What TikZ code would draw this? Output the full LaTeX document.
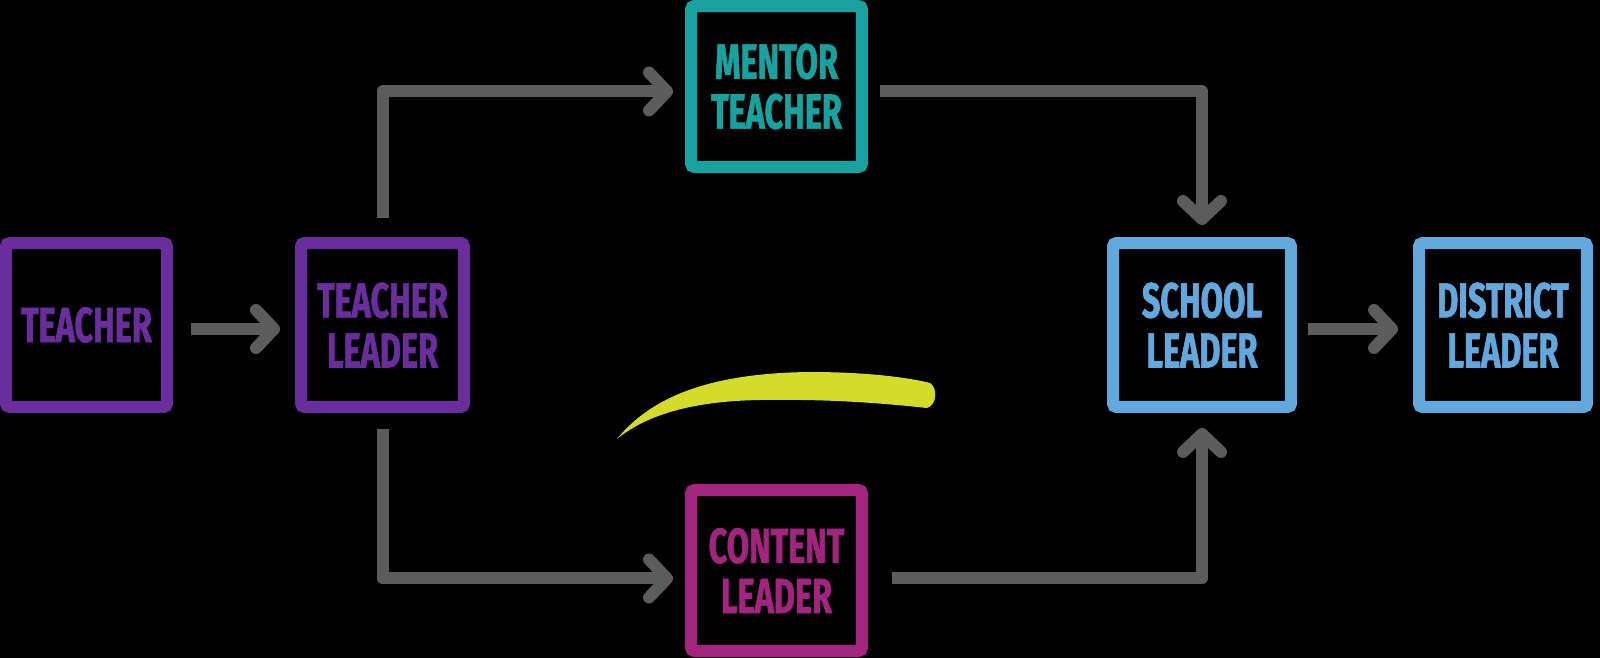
\documentclass[tikz,border=0pt]{standalone}
\usepackage{fontspec}
\newfontfamily\stagefont[FakeStretch=0.66, FakeBold=1.2]{Fira Sans}
\usetikzlibrary{arrows.meta}

\definecolor{tpurple}{HTML}{6A2E9C}
\definecolor{tteal}{HTML}{17A29F}
\definecolor{tmagenta}{HTML}{A3247F}
\definecolor{tblue}{HTML}{62A8DD}
\definecolor{tgray}{HTML}{5C5C5C}
\definecolor{tyellow}{HTML}{D3DC2A}

\begin{document}
\begin{tikzpicture}[x=0.02cm, y=-0.02cm,
    >={Straight Barb[length=0.36cm, width=0.76cm, round]},
    stage/.style={draw, line width=0.24cm, rounded corners=2pt, inner sep=0pt,
        minimum width=3.22cm, minimum height=3.28cm, align=center,
        font=\stagefont\bfseries\fontsize{28}{28.5}\selectfont},
    flow/.style={->, draw=tgray, line width=0.24cm, line join=round}]
    \fill[black] (0,0) rectangle (1600,658);
    \useasboundingbox (0,0) rectangle (1600,658);

    % stages
    \node[stage, draw=tpurple, text=tpurple] (teacher) at (86.5,325) {TEACHER};
    \node[stage, draw=tpurple, text=tpurple, minimum width=3.26cm] (tl) at (382.5,325) {TEACHER\\LEADER};
    \node[stage, draw=tteal, text=tteal, minimum width=3.42cm, minimum height=3.22cm] (mentor) at (776.5,86.5) {MENTOR\\TEACHER};
    \node[stage, draw=tmagenta, text=tmagenta, minimum width=3.42cm, minimum height=3.22cm] (content) at (776.5,570.5) {CONTENT\\LEADER};
    \node[stage, draw=tblue, text=tblue, minimum width=3.56cm] (school) at (1202,325) {SCHOOL\\LEADER};
    \node[stage, draw=tblue, text=tblue, minimum width=3.36cm] (district) at (1503,325) {DISTRICT\\LEADER};

    % paths
    \draw[flow, shorten <=0.36cm, shorten >=0.3cm] ([yshift=-0.08cm]teacher.east) -- ([yshift=-0.08cm]tl.west);
    \draw[flow, shorten <=0.38cm, shorten >=0.24cm] (tl.north) |- ([yshift=-0.1cm]mentor.west);
    \draw[flow, shorten <=0.32cm, shorten >=0.24cm] (tl.south) |- ([yshift=-0.16cm]content.west);
    \draw[flow, shorten <=0.24cm, shorten >=0.24cm] ([yshift=-0.1cm]mentor.east) -| (school.north);
    \draw[flow, shorten <=0.48cm, shorten >=0.3cm] ([yshift=-0.16cm]content.east) -| (school.south);
    \draw[flow, shorten <=0.22cm, shorten >=0.3cm] ([yshift=-0.08cm]school.east) -- ([yshift=-0.08cm]district.west);

    % brush stroke
    \fill[tyellow] (617,439) .. controls (655,392) and (720,373) .. (810,372)
        .. controls (870,372) and (910,378) .. (930,383)
        .. controls (938,388) and (937,405) .. (927,408)
        .. controls (880,403) and (830,399) .. (760,400)
        .. controls (700,401) and (650,412) .. (617,439) -- cycle;
\end{tikzpicture}
\end{document}
